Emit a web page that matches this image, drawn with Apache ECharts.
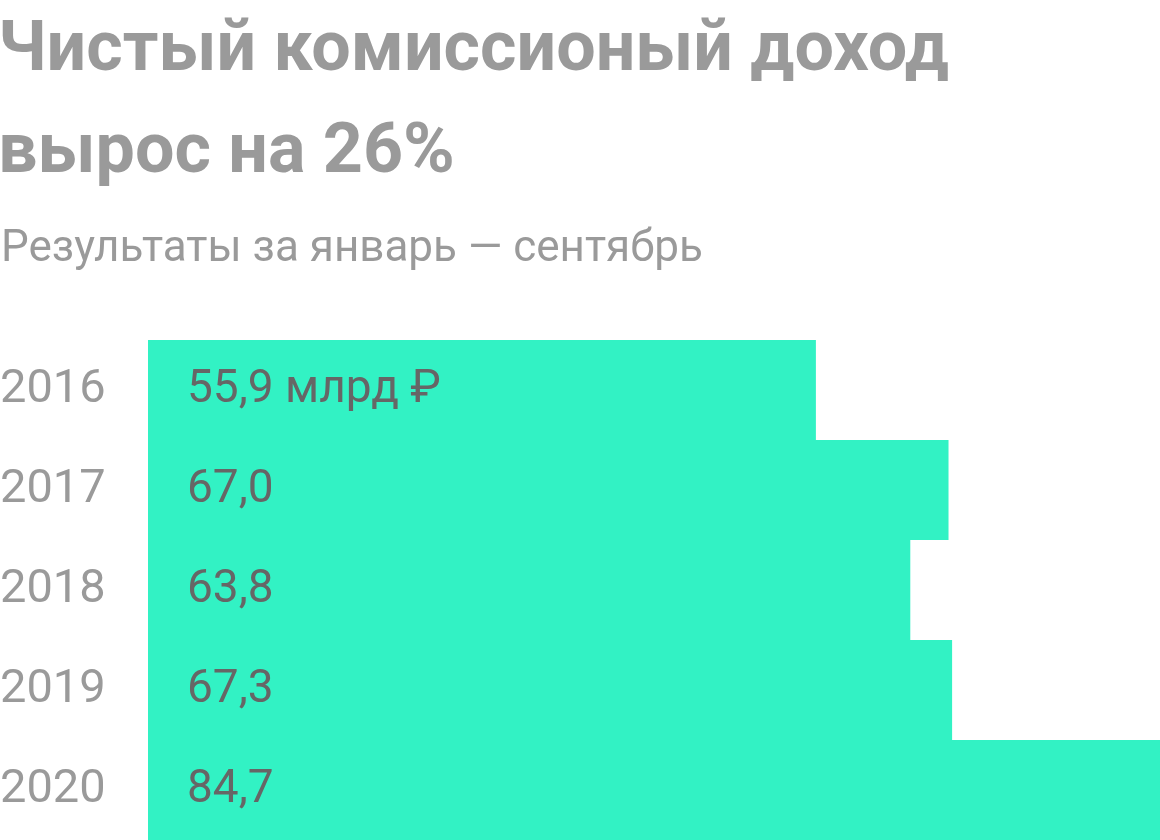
<!DOCTYPE html>
<html>
<head>
<meta charset="utf-8">
<script src="https://cdn.jsdelivr.net/npm/echarts@6/dist/echarts.min.js"></script>
<style>
  html, body { margin: 0; padding: 0; background: #fff; }
  #chart { width: 1160px; height: 840px; }
</style>
</head>
<body>
<div id="chart"></div>
<script>
const years = ["2016", "2017", "2018", "2019", "2020"];
const income = [55.9, 67.0, 63.8, 67.3, 84.7];

const chart = echarts.init(document.getElementById("chart"));

const fmt = (v) => v.toFixed(1).replace(".", ",");

const option = {
  animation: false,
  title: [
    {
      text: "Чистый комиссионый доход\nвырос на 26%",
      left: -7,
      top: -4,
      textStyle: {
        fontFamily: "Roboto",
        fontWeight: "bold",
        fontSize: 70,
        lineHeight: 102,
        color: "#9a9a9a",
      },
    },
    {
      text: "Результаты за январь — сентябрь",
      left: -4,
      top: 223,
      textStyle: {
        fontFamily: "Roboto",
        fontWeight: "normal",
        fontSize: 44,
        color: "#9a9a9a",
      },
    },
  ],
  grid: { left: 148, right: 0, top: 340, bottom: 0, containLabel: false, outerBoundsMode: "none" },
  xAxis: {
    type: "value",
    min: 0,
    max: "dataMax",
    show: false,
  },
  yAxis: {
    type: "category",
    data: years,
    inverse: true,
    axisLine: { show: false },
    axisTick: { show: false },
    axisLabel: {
      align: "left",
      margin: 148,
      fontFamily: "Roboto",
      fontSize: 47,
      color: "#9a9a9a",
    },
  },
  series: [
    {
      type: "bar",
      data: income,
      barWidth: "100%",
      itemStyle: { color: "#32f2c4" },
      label: {
        show: true,
        position: "insideLeft",
        distance: 39,
        fontFamily: "Roboto",
        fontSize: 46,
        color: "#666666",
        formatter: (p) => (p.dataIndex === 0 ? fmt(p.value) + " млрд ₽" : fmt(p.value)),
      },
    },
  ],
};

chart.setOption(option);
</script>
</body>
</html>
